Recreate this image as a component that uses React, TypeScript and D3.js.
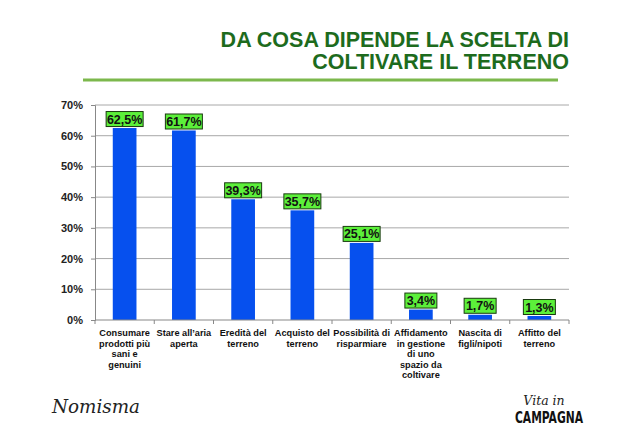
import { useEffect, useRef } from 'react';
import * as d3 from 'd3';

const categories = [
  ['Consumare', 'prodotti più', 'sani e', 'genuini'],
  ['Stare all\u2019aria', 'aperta'],
  ['Eredità del', 'terreno'],
  ['Acquisto del', 'terreno'],
  ['Possibilità di', 'risparmiare'],
  ['Affidamento', 'in gestione', 'di uno', 'spazio da', 'coltivare'],
  ['Nascita di', 'figli/nipoti'],
  ['Affitto del', 'terreno'],
];
const values = [62.5, 61.7, 39.3, 35.7, 25.1, 3.4, 1.7, 1.3];
const valueLabels = ['62,5%', '61,7%', '39,3%', '35,7%', '25,1%', '3,4%', '1,7%', '1,3%'];
const yTicks = [0, 10, 20, 30, 40, 50, 60, 70];
const titleLines = ['DA COSA DIPENDE LA SCELTA DI', 'COLTIVARE IL TERRENO'];

export default function App() {
  const svgRef = useRef<SVGSVGElement>(null);

  useEffect(() => {
    if (!svgRef.current) return;
    const svg = d3.select(svgRef.current);
    svg.selectAll('*').remove();

    const width = 640;
    const height = 448;
    const margin = { top: 105, right: 71, bottom: 128, left: 95 };
    const innerW = width - margin.left - margin.right;
    const innerH = height - margin.top - margin.bottom;
    const font = 'Arial, "Liberation Sans", sans-serif';

    svg.append('rect').attr('width', width).attr('height', height).attr('fill', '#ffffff');

    // title
    const title = svg
      .append('text')
      .attr('text-anchor', 'end')
      .attr('font-family', font)
      .attr('font-weight', 'bold')
      .attr('font-size', 21.5)
      .attr('fill', '#1d6b1d');
    titleLines.forEach((t, i) => {
      title.append('tspan').attr('x', 569).attr('y', 47 + i * 22).text(t);
    });

    svg
      .append('line')
      .attr('x1', 83)
      .attr('x2', 558)
      .attr('y1', 80)
      .attr('y2', 80)
      .attr('stroke', '#7cb84c')
      .attr('stroke-width', 3);

    const g = svg.append('g').attr('transform', `translate(${margin.left},${margin.top})`);

    const x = d3
      .scaleBand<number>()
      .domain(d3.range(categories.length))
      .range([0, innerW])
      .paddingInner(0.6)
      .paddingOuter(0.3);
    const y = d3.scaleLinear().domain([0, 70]).range([innerH, 0]);

    // gridlines
    g.selectAll('line.grid')
      .data(yTicks.filter((d) => d > 0))
      .join('line')
      .attr('class', 'grid')
      .attr('x1', 0)
      .attr('x2', innerW)
      .attr('y1', (d) => y(d))
      .attr('y2', (d) => y(d))
      .attr('stroke', '#a8a8a8')
      .attr('stroke-width', 1);

    // y axis
    const yAxis = g
      .append('g')
      .call(
        d3
          .axisLeft(y)
          .tickValues(yTicks)
          .tickSize(4)
          .tickPadding(8)
          .tickFormat((d) => `${d}%`)
      );
    yAxis.select('.domain').attr('stroke', '#888');
    yAxis.selectAll('line').attr('stroke', '#888');
    yAxis
      .selectAll('text')
      .attr('font-family', font)
      .attr('font-weight', 'bold')
      .attr('font-size', 11)
      .attr('fill', '#222');

    // bars
    g.selectAll('rect.bar')
      .data(values)
      .join('rect')
      .attr('class', 'bar')
      .attr('x', (_, i) => x(i) ?? 0)
      .attr('width', x.bandwidth())
      .attr('y', (d) => y(d))
      .attr('height', (d) => innerH - y(d))
      .attr('fill', '#0650ee');

    // x axis
    const step = x.step();
    g.append('line')
      .attr('x1', 0)
      .attr('x2', innerW)
      .attr('y1', innerH)
      .attr('y2', innerH)
      .attr('stroke', '#888');
    g.selectAll('line.xtick')
      .data(d3.range(categories.length + 1))
      .join('line')
      .attr('class', 'xtick')
      .attr('x1', (i) => i * step)
      .attr('x2', (i) => i * step)
      .attr('y1', innerH)
      .attr('y2', innerH + 4)
      .attr('stroke', '#888');

    // value labels
    const labels = g
      .selectAll('g.vlabel')
      .data(values)
      .join('g')
      .attr('class', 'vlabel')
      .attr(
        'transform',
        (d, i) => `translate(${(x(i) ?? 0) + x.bandwidth() / 2},${y(d) - 9})`
      );
    labels
      .append('rect')
      .attr('x', (_, i) => (valueLabels[i].length > 4 ? -18.5 : -16))
      .attr('width', (_, i) => (valueLabels[i].length > 4 ? 37 : 32))
      .attr('y', -7.5)
      .attr('height', 15)
      .attr('fill', '#5cf03a')
      .attr('stroke', '#1a3a10')
      .attr('stroke-width', 1);
    labels
      .append('text')
      .attr('text-anchor', 'middle')
      .attr('dy', '0.36em')
      .attr('font-family', font)
      .attr('font-weight', 'bold')
      .attr('font-size', 12.5)
      .attr('fill', '#111')
      .text((_, i) => valueLabels[i]);

    // category labels
    const cat = g
      .selectAll('text.cat')
      .data(categories)
      .join('text')
      .attr('class', 'cat')
      .attr('text-anchor', 'middle')
      .attr('font-family', font)
      .attr('font-weight', 'bold')
      .attr('font-size', 9.2)
      .attr('fill', '#111');
    cat.each(function (lines, i) {
      const cx = (x(i) ?? 0) + x.bandwidth() / 2;
      d3.select(this)
        .selectAll('tspan')
        .data(lines)
        .join('tspan')
        .attr('x', cx)
        .attr('y', (_, j) => innerH + 16 + j * 10.5)
        .text((t) => t);
    });

    // logos
    svg
      .append('text')
      .attr('x', 52)
      .attr('y', 413)
      .attr('font-family', '"DejaVu Serif", serif')
      .attr('font-style', 'italic')
      .attr('font-size', 19)
      .attr('textLength', 88)
      .attr('lengthAdjust', 'spacingAndGlyphs')
      .attr('fill', '#222')
      .text('Nomisma');
    svg
      .append('text')
      .attr('x', 544)
      .attr('y', 405)
      .attr('text-anchor', 'middle')
      .attr('font-family', '"DejaVu Serif", serif')
      .attr('font-style', 'italic')
      .attr('font-size', 12.5)
      .attr('fill', '#222')
      .text('Vita in');
    svg
      .append('text')
      .attr('x', 515)
      .attr('y', 423)
      .attr('font-family', '"DejaVu Sans Condensed", "Liberation Sans Narrow", sans-serif')
      .attr('font-weight', 'bold')
      .attr('font-size', 15)
      .attr('textLength', 68)
      .attr('lengthAdjust', 'spacingAndGlyphs')
      .attr('fill', '#111')
      .text('CAMPAGNA');
  }, []);

  return (
    <svg
      ref={svgRef}
      width={640}
      height={448}
      style={{ display: 'block', position: 'absolute', left: 0, top: 0 }}
    />
  );
}
